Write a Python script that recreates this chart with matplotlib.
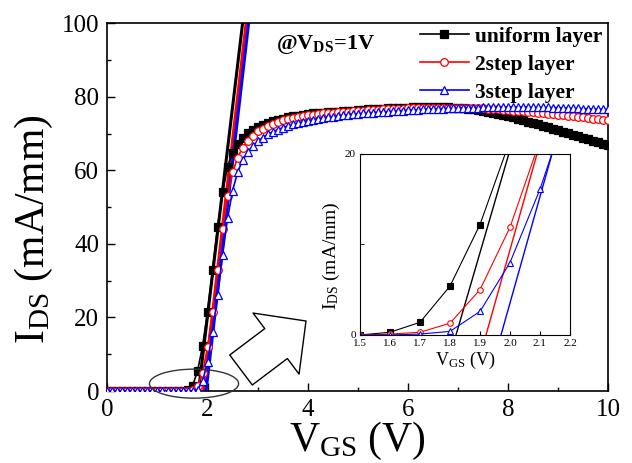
import matplotlib
matplotlib.use('Agg')
import matplotlib.pyplot as plt
import numpy as np
from matplotlib.patches import Ellipse

plt.rcParams['font.family'] = 'Liberation Serif'
plt.rcParams['mathtext.fontset'] = 'custom'
plt.rcParams['mathtext.rm'] = 'Liberation Serif'
plt.rcParams['mathtext.it'] = 'Liberation Serif:italic'
plt.rcParams['mathtext.bf'] = 'Liberation Serif:bold'

# gate sweep, 0 to 10 V in 0.1 V steps
vgs = np.linspace(0, 10, 101)

# transfer curves (mA/mm), 0.0-1.5 V are all zero, then 1.6 ... 10.0 V
ids_uniform = [0.0] * 16 + [
    0.3, 1.4, 5.4, 12.2, 21.5, 33.0, 44.5, 54.0, 61.0, 64.8,
    67.2, 68.9, 70.1, 71.0, 71.8, 72.4, 72.9, 73.4, 73.8, 74.1,
    74.4, 74.7, 74.9, 75.1, 75.3, 75.5, 75.6, 75.7, 75.8, 75.9,
    76.0, 76.1, 76.2, 76.3, 76.4, 76.5, 76.6, 76.7, 76.8, 76.8,
    76.9, 77.0, 77.0, 77.1, 77.1, 77.2, 77.2, 77.2, 77.3, 77.3,
    77.3, 77.2, 77.2, 77.1, 77.0, 76.9, 76.8, 76.6, 76.4, 76.2,
    76.0, 75.7, 75.4, 75.1, 74.8, 74.5, 74.1, 73.7, 73.3, 72.9,
    72.5, 72.1, 71.7, 71.3, 70.9, 70.5, 70.1, 69.7, 69.3, 68.9,
    68.5, 68.1, 67.7, 67.3, 66.9]
ids_2step = [0.0] * 16 + [
    0.1, 0.3, 1.3, 5.0, 11.9, 21.5, 33.0, 44.0, 53.0, 59.5,
    63.5, 66.2, 68.1, 69.5, 70.6, 71.4, 72.1, 72.7, 73.2, 73.6,
    74.0, 74.3, 74.6, 74.8, 75.0, 75.2, 75.4, 75.5, 75.6, 75.7,
    75.8, 75.9, 76.0, 76.1, 76.2, 76.3, 76.4, 76.5, 76.5, 76.6,
    76.7, 76.7, 76.8, 76.8, 76.9, 76.9, 77.0, 77.0, 77.0, 77.1,
    77.1, 77.1, 77.1, 77.1, 77.1, 77.1, 77.0, 77.0, 76.9, 76.9,
    76.8, 76.7, 76.6, 76.5, 76.4, 76.3, 76.2, 76.1, 76.0, 75.8,
    75.7, 75.6, 75.4, 75.3, 75.1, 75.0, 74.8, 74.7, 74.5, 74.4,
    74.2, 74.1, 73.9, 73.8, 73.6]
ids_3step = [0.0] * 16 + [
    0.0, 0.1, 0.4, 2.6, 8.0, 16.1, 26.0, 37.0, 47.0, 54.5,
    59.5, 62.8, 65.0, 66.6, 67.9, 68.9, 69.8, 70.5, 71.1, 71.6,
    72.1, 72.5, 72.9, 73.2, 73.5, 73.8, 74.0, 74.2, 74.4, 74.6,
    74.8, 75.0, 75.1, 75.3, 75.4, 75.5, 75.6, 75.7, 75.8, 75.9,
    76.0, 76.1, 76.2, 76.3, 76.4, 76.5, 76.5, 76.6, 76.7, 76.7,
    76.8, 76.8, 76.9, 76.9, 77.0, 77.0, 77.1, 77.1, 77.1, 77.2,
    77.2, 77.2, 77.2, 77.3, 77.3, 77.3, 77.3, 77.3, 77.3, 77.2,
    77.2, 77.2, 77.2, 77.1, 77.1, 77.0, 77.0, 76.9, 76.9, 76.8,
    76.8, 76.7, 76.7, 76.6, 76.6]

# linear extrapolation lines (threshold voltage)
fit_ids = [0, 100]
fit_uniform = [1.82, 2.70]
fit_2step = [1.92, 2.77]
fit_3step = [1.97, 2.82]

labels = ['uniform layer', '2step layer', '3step layer']
colors = ['black', 'red', 'blue']
markers = ['s', 'o', '^']
faces = ['black', 'white', 'white']
curves = [ids_uniform, ids_2step, ids_3step]
fits = [fit_uniform, fit_2step, fit_3step]

fig = plt.figure(figsize=(6.32, 4.63), dpi=100)
ax = fig.add_axes([0.170, 0.1555, 0.792, 0.794])

for fv, c in zip(fits, colors):
    ax.plot(fv, fit_ids, color=c, lw=2.2, zorder=2)
handles = []
for ids, c, m, fc, lab in zip(curves, colors, markers, faces, labels):
    h, = ax.plot(vgs, ids, color=c, lw=1.2, marker=m, ms=5.5, mfc=fc,
                 mec=c, mew=0.9, label=lab, zorder=3)
    handles.append(h)

ax.set_xlim(0, 10)
ax.set_ylim(0, 100)
ax.set_xticks([0, 2, 4, 6, 8, 10])
ax.set_xticks([1, 3, 5, 7, 9], minor=True)
ax.set_yticks([0, 20, 40, 60, 80, 100])
ax.set_yticks([10, 30, 50, 70, 90], minor=True)
ax.tick_params(which='both', direction='in', top=False, right=False,
               labelsize=18, pad=6)
ax.tick_params(which='major', length=6, width=1)
ax.tick_params(which='minor', length=3, width=1)
for s in ax.spines.values():
    s.set_linewidth(1.2)

ax.set_xlabel(r'V$_{\mathrm{GS}}$ (V)', fontsize=30, va='top')
ax.xaxis.set_label_coords(0.5, -0.08)
ax.set_ylabel(r'I$_{\mathrm{DS}}$ (mA/mm)', fontsize=30)
ax.yaxis.set_label_coords(-0.105, 0.44)

ax.legend(handles=handles, loc='upper right', bbox_to_anchor=(1.005, 1.014),
          frameon=False, prop={'size': 15.5, 'weight': 'bold'},
          handlelength=2.3, handletextpad=0.25, labelspacing=0.36,
          borderaxespad=0.2, borderpad=0.2)
ax.text(3.36, 97.5, r'@V$_{\mathbf{DS}}$=1V', fontsize=16, fontweight='bold',
        ha='left', va='top')

# zoom marker and arrow
ax.add_patch(Ellipse((1.73, 2.0), 1.78, 7.9, fill=False, ec='#333333',
                     lw=1.0, clip_on=False, zorder=4))
ax.annotate('', xy=(306, 142), xytext=(241, 93), xycoords='figure pixels',
            textcoords='figure pixels',
            arrowprops=dict(arrowstyle='simple,head_length=2.7,head_width=5.5,tail_width=2.7',
                            mutation_scale=10, fc='white', ec='black', lw=1.0,
                            shrinkA=0, shrinkB=0))

# inset: sub-threshold region
axin = fig.add_axes([0.5696, 0.2765, 0.3323, 0.391])
for fv, c in zip(fits, colors):
    axin.plot(fv, fit_ids, color=c, lw=1.0)
for ids, c, m, fc in zip(curves, colors, markers, faces):
    axin.plot(vgs, ids, color=c, lw=0.8, marker=m, ms=4, mfc=fc, mec=c, mew=0.8)
axin.set_xlim(1.5, 2.2)
axin.set_ylim(0, 20)
axin.set_xticks([1.5, 1.6, 1.7, 1.8, 1.9, 2.0, 2.1, 2.2])
axin.set_yticks([0, 20])
axin.set_yticks([10], minor=True)
axin.tick_params(which='both', direction='in', labelsize=8, pad=3,
                 length=3, top=False, right=False)
axin.set_xlabel(r'V$_{\mathrm{GS}}$ (V)', fontsize=13, labelpad=1)
axin.set_ylabel(r'I$_{\mathrm{DS}}$ (mA/mm)', fontsize=14)
axin.yaxis.set_label_coords(-0.085, 0.44)

fig.savefig('out.png', dpi=100)
